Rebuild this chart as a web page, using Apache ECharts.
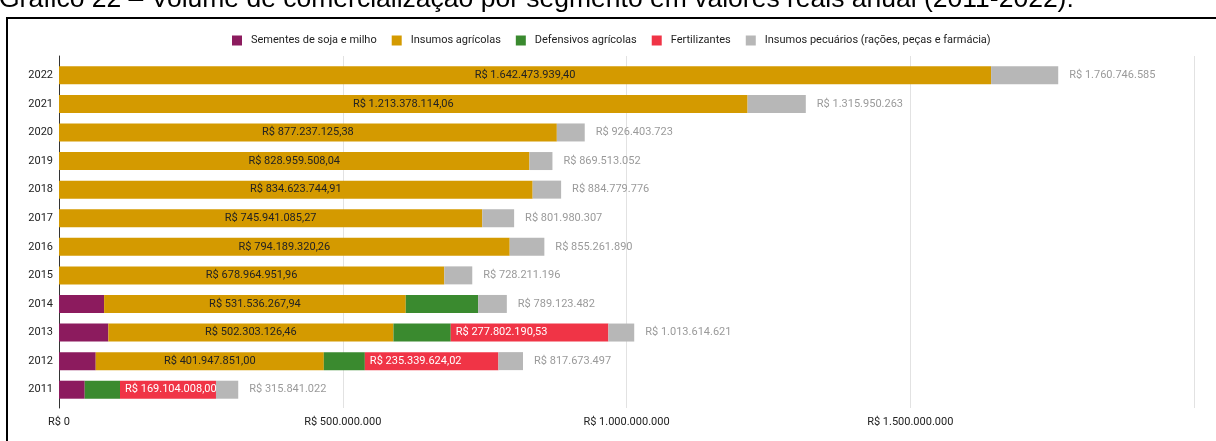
<!DOCTYPE html>
<html>
<head>
<meta charset="utf-8">
<script src="https://cdn.jsdelivr.net/npm/echarts@6/dist/echarts.min.js"></script>
<style>
  html, body { margin: 0; padding: 0; background: #fff; }
  #chart { width: 1216px; height: 441px; }
</style>
</head>
<body>
<div id="chart"></div>
<script>
// Volume comercializado por segmento, valores reais anuais (2011-2022)
const anos = ['2011', '2012', '2013', '2014', '2015', '2016', '2017', '2018', '2019', '2020', '2021', '2022'];
const sementes = [45300000, 64700000, 87000000, 79500000, 0, 0, 0, 0, 0, 0, 0, 0];
const insumosAgricolas = [0, 401947851.00, 502303126.46, 531536267.94, 678964951.96, 794189320.26,
  745941085.27, 834623744.91, 828959508.04, 877237125.38, 1213378114.06, 1642473939.40];
const defensivos = [62200000, 72300000, 101000000, 127500000, 0, 0, 0, 0, 0, 0, 0, 0];
const fertilizantes = [169104008.00, 235339624.02, 277802190.53, 0, 0, 0, 0, 0, 0, 0, 0, 0];
// Total anual de cada barra
const totais = [315841022, 817673497, 1013614621, 789123482, 728211196, 855261890,
  801980307, 884779776, 869513052, 926403723, 1315950263, 1760746585];
// Insumos pecuários: o restante do total
const pecuarios = totais.map((t, i) => t - sementes[i] - insumosAgricolas[i] - defensivos[i] - fertilizantes[i]);
const ticksEixoX = [0, 500000000, 1000000000, 1500000000];

const nomes = ['Sementes de soja e milho', 'Insumos agrícolas', 'Defensivos agrícolas',
  'Fertilizantes', 'Insumos pecuários (rações, peças e farmácia)'];
const cores = ['#8c1b5e', '#d49a00', '#3a8a2f', '#f03446', '#b7b7b7'];

function milhares(n) {
  return String(n).replace(/\B(?=(\d{3})+(?!\d))/g, '.');
}
function reais(v, casas) {
  if (casas) {
    const s = v.toFixed(casas).split('.');
    return 'R$ ' + milhares(s[0]) + ',' + s[1];
  }
  return 'R$ ' + milhares(Math.round(v));
}

const FONT = 'Roboto';
const chart = echarts.init(document.getElementById('chart'), null, { renderer: 'canvas' });

function serie(nome, dados, cor, label) {
  return {
    name: nome,
    type: 'bar',
    stack: 'total',
    xAxisIndex: 0,
    yAxisIndex: 0,
    barWidth: 18,
    data: dados,
    itemStyle: { color: cor },
    label: label || { show: false },
    emphasis: { disabled: true }
  };
}

chart.setOption({
  animation: false,
  textStyle: { fontFamily: FONT },
  graphic: [
    {
      type: 'text',
      x: -1,
      y: 13,
      style: {
        text: 'Gráfico 22 – Volume de comercialização por segmento em valores reais anual (2011-2022).',
        font: '26.5px "Liberation Sans", Arial, sans-serif',
        fill: '#000',
        verticalAlign: 'bottom'
      }
    },
    {
      type: 'rect',
      shape: { x: 7, y: 18, width: 1230, height: 500 },
      style: { fill: 'none', stroke: '#000', lineWidth: 2 }
    }
  ],
  legend: {
    top: 30,
    left: 227,
    itemWidth: 10,
    itemHeight: 10,
    itemGap: 15,
    icon: 'rect',
    textStyle: { color: '#222', fontSize: 11, fontFamily: FONT, padding: [0, 0, 0, 4] },
    data: nomes
  },
  grid: [
    { left: 59, right: 22, top: 61, bottom: 37 },
    { left: 59, right: 22, top: 56, bottom: 33 }
  ],
  xAxis: [
    {
      type: 'value', gridIndex: 0, min: 0, max: 2000000000, interval: 500000000,
      axisLine: { show: false }, axisTick: { show: false }, splitLine: { show: false },
      axisLabel: {
        color: '#222', fontSize: 11, fontFamily: FONT, margin: 13,
        formatter: v => (ticksEixoX.indexOf(v) >= 0 ? reais(v) : '')
      }
    },
    {
      type: 'value', gridIndex: 1, min: 0, max: 2000000000, interval: 500000000,
      axisLine: { show: false }, axisTick: { show: false }, axisLabel: { show: false },
      splitLine: { show: true, lineStyle: { color: '#e2e2e2', width: 1 } }
    }
  ],
  yAxis: [
    {
      type: 'category', gridIndex: 0, data: anos,
      axisLine: { show: false }, axisTick: { show: false },
      axisLabel: { color: '#222', fontSize: 11, fontFamily: FONT, margin: 6 }
    },
    {
      type: 'value', gridIndex: 1, min: 0, max: 1,
      axisLine: { show: true, lineStyle: { color: '#333', width: 1 } },
      axisTick: { show: false }, axisLabel: { show: false }, splitLine: { show: false }
    }
  ],
  series: [
    serie(nomes[0], sementes, cores[0]),
    serie(nomes[1], insumosAgricolas, cores[1], {
      show: true, position: 'inside', color: '#222', fontSize: 11, fontFamily: FONT,
      formatter: p => (p.value > 0 ? reais(p.value, 2) : '')
    }),
    serie(nomes[2], defensivos, cores[2]),
    serie(nomes[3], fertilizantes, cores[3], {
      show: true, position: 'insideLeft', distance: 5, color: '#fff', fontSize: 11, fontFamily: FONT,
      formatter: p => (p.value > 0 ? reais(p.value, 2) : '')
    }),
    serie(nomes[4], pecuarios, cores[4], {
      show: true, position: 'right', distance: 11, color: '#9a9a9a', fontSize: 11, fontFamily: FONT,
      formatter: p => reais(totais[p.dataIndex])
    })
  ]
});
</script>
</body>
</html>
